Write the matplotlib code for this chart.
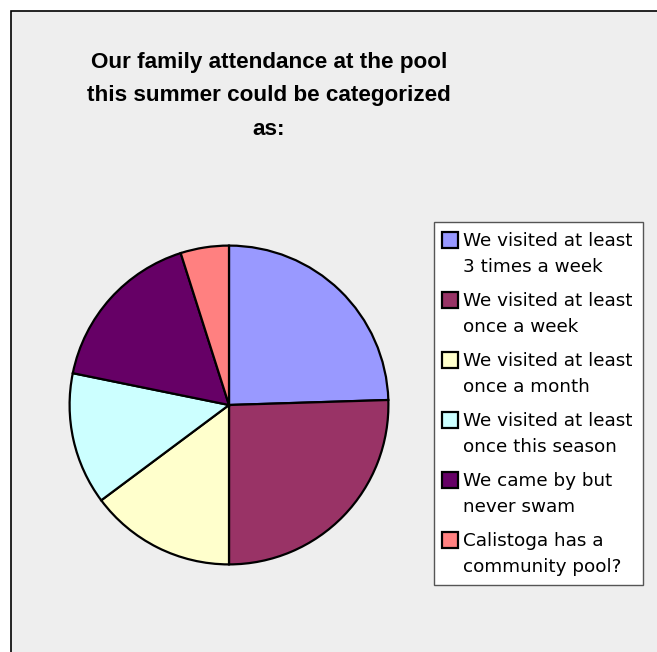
import matplotlib.pyplot as plt
from matplotlib.patches import Rectangle

W, H = 657, 652

labels = [
    "We visited at least\n3 times a week",
    "We visited at least\nonce a week",
    "We visited at least\nonce a month",
    "We visited at least\nonce this season",
    "We came by but\nnever swam",
    "Calistoga has a\ncommunity pool?",
]
shares = [24.5, 25.5, 14.8, 13.4, 16.9, 4.9]
colors = ["#9999FF", "#993366", "#FFFFCC", "#CCFFFF", "#660066", "#FF8080"]
title = "Our family attendance at the pool\nthis summer could be categorized\nas:"

fig = plt.figure(figsize=(W / 100, H / 100), dpi=100)
fig.patch.set_facecolor("white")


def px(x, y):
    # pixel position (from top-left) -> figure fraction
    return x / W, 1 - y / H


# chart area with black frame (runs off the right and bottom edges)
fig.patches.append(Rectangle((11 / W, -0.05), 1.0, 1 - 11 / H + 0.05,
                             transform=fig.transFigure, facecolor="#EEEEEE",
                             edgecolor="black", linewidth=1.2, zorder=-5))

fig.text(*px(269, 96), title, ha="center", va="center",
         fontsize=16.2, fontweight="bold", family="Liberation Sans",
         linespacing=1.78)

ax = fig.add_axes([68 / W, (H - 566) / H, 322 / W, 322 / H])
ax.set_zorder(2)
wedges, _ = ax.pie(shares, colors=colors, startangle=90, counterclock=False,
                   radius=1, wedgeprops=dict(edgecolor="black", linewidth=1.6))
ax.set_xlim(-1.01, 1.01)
ax.set_ylim(-1.01, 1.01)
ax.set_aspect("equal")
ax.axis("off")

# legend box, drawn by hand so the key sits on the first text line
fig.patches.append(Rectangle(px(434, 585), 209 / W, 363 / H,
                             transform=fig.transFigure, facecolor="white",
                             edgecolor="#555555", linewidth=1.0, zorder=3))
for i, (w, lab) in enumerate(zip(wedges, labels)):
    y0 = 241 + 60 * i
    fig.patches.append(Rectangle(px(442, y0 + 7), 16 / W, 16 / H,
                                 transform=fig.transFigure,
                                 facecolor=w.get_facecolor(),
                                 edgecolor="black", linewidth=1.6, zorder=4))
    for j, line in enumerate(lab.split("\n")):
        fig.text(*px(463, y0 + 26 * j), line, ha="left", va="center",
                 fontsize=13.2, family="DejaVu Sans", zorder=5)

fig.savefig("out.png", dpi=100)
